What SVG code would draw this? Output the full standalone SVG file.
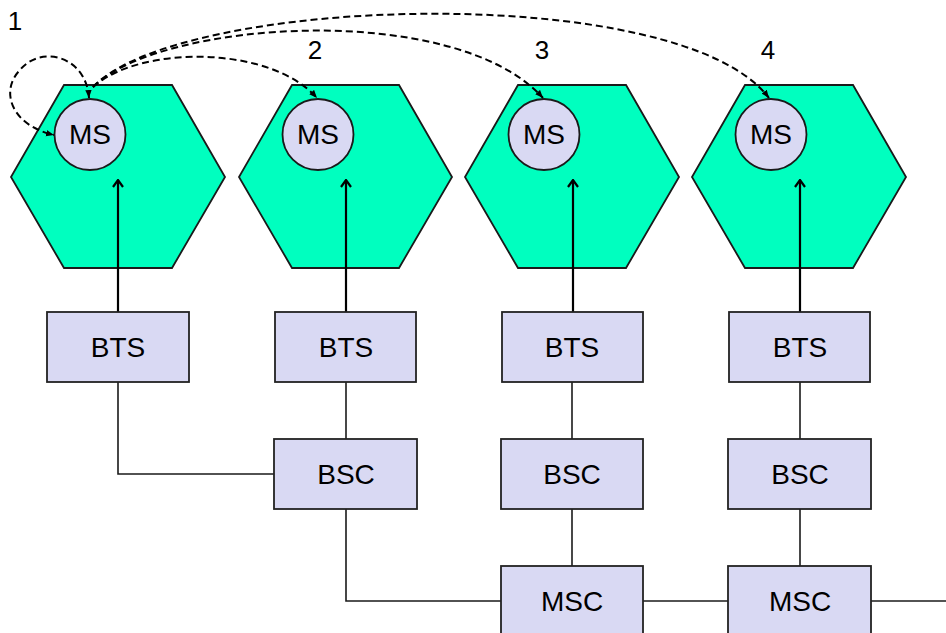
<svg xmlns="http://www.w3.org/2000/svg" width="946" height="633" viewBox="0 0 946 633">
<style>
.hex{fill:#00FFBF;stroke:#1a1a1a;stroke-width:1.8}
.ms{fill:#D9D9F3;stroke:#1a1a1a;stroke-width:1.8}
.box{fill:#D9D9F3;stroke:#222;stroke-width:1.8}
.t{font-family:"Liberation Sans",Arial,sans-serif;font-size:28px;fill:#000;text-anchor:middle}
.lbl{font-family:"Liberation Sans",Arial,sans-serif;font-size:26px;fill:#000;text-anchor:middle}
.wire{fill:none;stroke:#1a1a1a;stroke-width:1.6}
.up{fill:none;stroke:#000;stroke-width:2.2;marker-end:url(#open)}
.dash{fill:none;stroke:#000;stroke-width:2;stroke-dasharray:7,4}
</style>
<defs>
<marker id="open" viewBox="0 0 12 10" refX="6" refY="1" markerWidth="12" markerHeight="10" markerUnits="userSpaceOnUse" orient="0">
<path d="M1,8 L6,1 L11,8" fill="none" stroke="#000" stroke-width="2.2"/>
</marker>
<marker id="tri" viewBox="0 0 10 8" refX="10" refY="4" markerWidth="8" markerHeight="7" markerUnits="userSpaceOnUse" orient="auto-start-reverse">
<path d="M0,0 L10,4 L0,8 Z" fill="#000"/>
</marker>
</defs>

<g id="cell1">
<polygon class="hex" points="64,85 172,85 225,177 172,268 64,268 11,177"/>
</g>
<g id="cell2">
<polygon class="hex" points="292,85 399,85 452,177 399,268 292,268 239,177"/>
</g>
<g id="cell3">
<polygon class="hex" points="518,85 626,85 679,177 626,268 518,268 465,177"/>
</g>
<g id="cell4">
<polygon class="hex" points="745,85 853,85 906,177 853,268 745,268 692,177"/>
</g>

<g id="ms1"><circle class="ms" cx="90" cy="134.5" r="35.5"/><text class="t" x="90" y="144">MS</text></g>
<g id="ms2"><circle class="ms" cx="318" cy="134.5" r="35.5"/><text class="t" x="318" y="144">MS</text></g>
<g id="ms3"><circle class="ms" cx="544" cy="134.5" r="35.5"/><text class="t" x="544" y="144">MS</text></g>
<g id="ms4"><circle class="ms" cx="771" cy="134.5" r="35.5"/><text class="t" x="771" y="144">MS</text></g>

<g id="labels">
<text class="lbl" x="15" y="30">1</text>
<text class="lbl" x="315" y="59">2</text>
<text class="lbl" x="542" y="59">3</text>
<text class="lbl" x="768" y="59">4</text>
</g>

<g id="connectors">
<path class="up" d="M118,312 V180"/>
<path class="up" d="M346,312 V180"/>
<path class="up" d="M573,312 V180"/>
<path class="up" d="M800,312 V180"/>

<path class="wire" d="M118,382 V474 H274"/>
<path class="wire" d="M346,382 V439"/>
<path class="wire" d="M346,509 V601 H501"/>
<path class="wire" d="M572,382 V439"/>
<path class="wire" d="M572,509 V566"/>
<path class="wire" d="M800,382 V439"/>
<path class="wire" d="M800,509 V566"/>
<path class="wire" d="M643,601 H728"/>
<path class="wire" d="M871,601 H946"/>

<path class="dash" marker-start="url(#tri)" marker-end="url(#tri)" d="M89,98 C86,55 40,45 20,70 C0,90 10,125 54,135"/>
<path class="dash" marker-end="url(#tri)" d="M93,87 C140,45 270,45 317,98"/>
<path class="dash" marker-end="url(#tri)" d="M93,87 C160,20 455,0 543,98"/>
<path class="dash" marker-end="url(#tri)" d="M93,87 C180,-5 680,-20 769,98"/>
</g>

<g id="bts1"><rect class="box" x="47" y="312" width="142" height="70"/><text class="t" x="118" y="357">BTS</text></g>
<g id="bts2"><rect class="box" x="275" y="312" width="141" height="70"/><text class="t" x="346" y="357">BTS</text></g>
<g id="bts3"><rect class="box" x="502" y="312" width="141" height="70"/><text class="t" x="572" y="357">BTS</text></g>
<g id="bts4"><rect class="box" x="729" y="312" width="141" height="70"/><text class="t" x="800" y="357">BTS</text></g>

<g id="bsc1"><rect class="box" x="274" y="439" width="143" height="70"/><text class="t" x="346" y="484">BSC</text></g>
<g id="bsc2"><rect class="box" x="501" y="439" width="142" height="70"/><text class="t" x="572" y="484">BSC</text></g>
<g id="bsc3"><rect class="box" x="728" y="439" width="143" height="70"/><text class="t" x="800" y="484">BSC</text></g>

<g id="msc1"><rect class="box" x="501" y="566" width="142" height="72"/><text class="t" x="572" y="611">MSC</text></g>
<g id="msc2"><rect class="box" x="728" y="566" width="143" height="72"/><text class="t" x="800" y="611">MSC</text></g>
</svg>
